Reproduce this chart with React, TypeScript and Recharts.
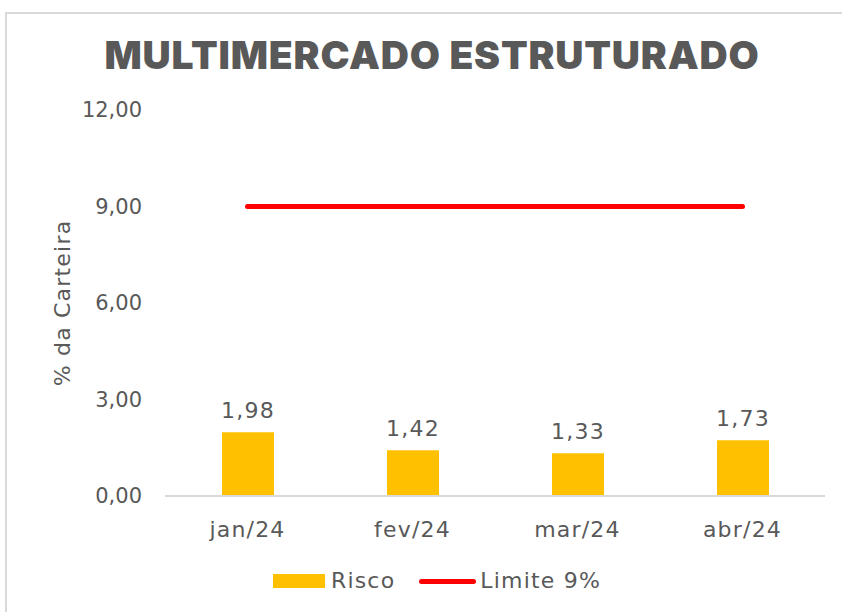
import React from 'react'
import { ComposedChart, Bar, Line, XAxis, YAxis, LabelList } from 'recharts'

const months = ['jan/24', 'fev/24', 'mar/24', 'abr/24']
const risco = [1.98, 1.42, 1.33, 1.73]
const limite = [9, 9, 9, 9]
const yTicks = [0, 3, 6, 9, 12]

const data = months.map((month, i) => ({ month, risco: risco[i], limite: limite[i] }))

const FONT = '"DejaVu Sans", sans-serif'
const TEXT = '#595959'
const LS = 1.2

const fmt = (v: number) => v.toFixed(2).replace('.', ',')

function LegendBox() {
  return (
    <div
      style={{
        position: 'absolute',
        left: 0,
        top: 566,
        width: 874,
        display: 'flex',
        justifyContent: 'center',
        alignItems: 'center',
        fontFamily: FONT,
        fontSize: 22,
        letterSpacing: LS,
        color: TEXT,
        lineHeight: '30px',
      }}
    >
      <span style={{ display: 'inline-block', width: 52, height: 14, background: '#FFC000', marginRight: 6 }} />
      <span style={{ marginRight: 24 }}>Risco</span>
      <span style={{ display: 'inline-block', width: 57, height: 5, borderRadius: 3, background: '#FF0000', marginRight: 4 }} />
      <span>Limite 9%</span>
    </div>
  )
}

export default function App() {
  return (
    <div style={{ position: 'absolute', left: 0, top: 0, width: 842, height: 612, background: '#fff', overflow: 'hidden' }}>
      <div style={{ position: 'absolute', left: 5, top: 12, width: 900, height: 700, border: '2px solid #D9D9D9', boxSizing: 'border-box' }} />
      <div
        style={{
          position: 'absolute',
          left: 0,
          top: 30,
          width: 864,
          textAlign: 'center',
          fontFamily: 'Inter, "DejaVu Sans", sans-serif',
          fontWeight: 900,
          fontSize: 39,
          letterSpacing: 0.8,
          lineHeight: '50px',
          color: TEXT,
        }}
      >
        MULTIMERCADO ESTRUTURADO
      </div>
      <ComposedChart
        width={842}
        height={612}
        data={data}
        margin={{ top: 110, right: 17, bottom: 76, left: 45 }}
        style={{ position: 'absolute', left: 0, top: 0 }}
      >
        <XAxis
          dataKey="month"
          tickLine={false}
          axisLine={{ stroke: '#D9D9D9', strokeWidth: 2 }}
          tickMargin={19}
          tick={{ fill: TEXT, fontSize: 22, fontFamily: FONT, letterSpacing: LS }}
          height={40}
        />
        <YAxis
          domain={[0, 12]}
          ticks={yTicks}
          width={120}
          axisLine={false}
          tickLine={false}
          tickMargin={17}
          tickFormatter={fmt}
          tick={{ fill: TEXT, fontSize: 21, fontFamily: FONT }}
          label={{
            content: ({ viewBox }: any) => {
              const cx = 62
              const cy = viewBox.y + viewBox.height / 2
              return (
                <text x={cx} y={cy} transform={`rotate(-90 ${cx} ${cy})`} textAnchor="middle" dominantBaseline="central" fill={TEXT} fontSize={22} letterSpacing={LS} fontFamily={FONT}>
                  % da Carteira
                </text>
              )
            },
          }}
        />
        <Bar dataKey="risco" name="Risco" fill="#FFC000" barSize={52} isAnimationActive={false}>
          <LabelList dataKey="risco" position="top" offset={14} formatter={(v: any) => fmt(Number(v))} fill={TEXT} fontSize={22} letterSpacing={LS} fontFamily={FONT} />
        </Bar>
        <Line dataKey="limite" name="Limite 9%" stroke="#FF0000" strokeWidth={5} strokeLinecap="round" dot={false} activeDot={false} isAnimationActive={false} />
      </ComposedChart>
      <LegendBox />
    </div>
  )
}
